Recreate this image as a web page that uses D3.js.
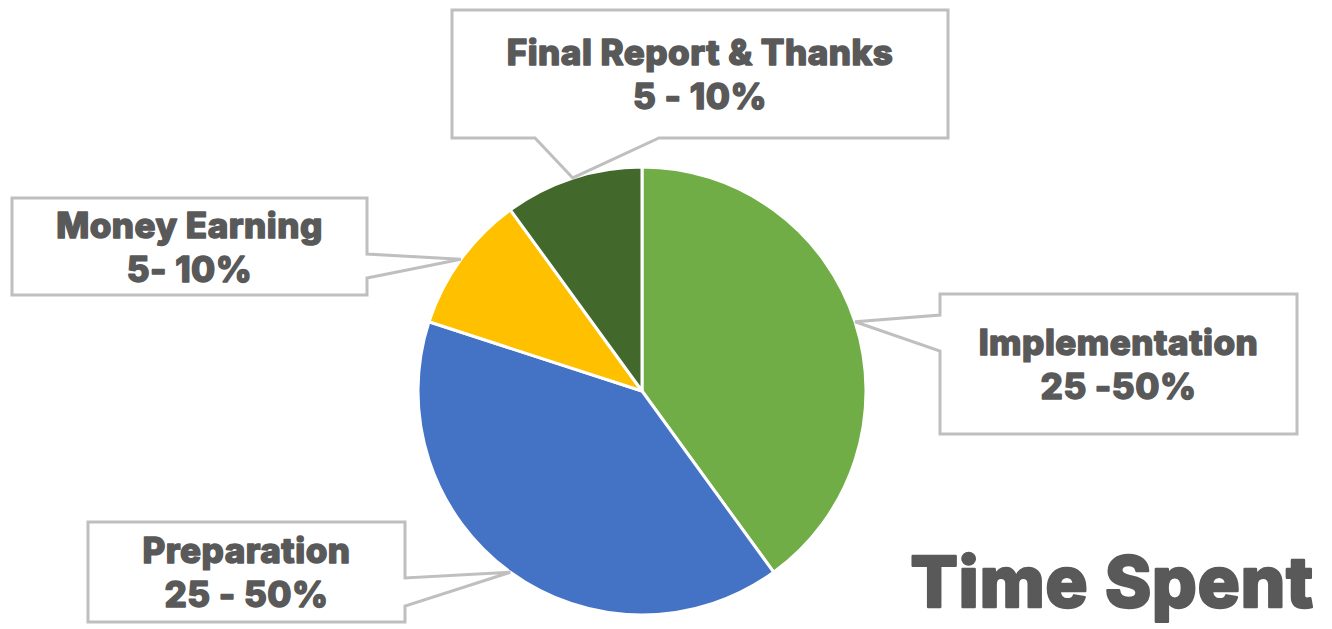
<!DOCTYPE html>
<html>
<head>
<meta charset="utf-8">
<script src="https://cdn.jsdelivr.net/npm/d3@7"></script>
<style>
  body { margin: 0; background: #fff; }
  svg { display: block; }
  text { font-family: Inter, "Open Sans", sans-serif; font-weight: 800; fill: #595959;
         stroke: #595959; stroke-linejoin: round; paint-order: stroke; }
</style>
</head>
<body>
<svg id="chart"></svg>
<script>
// data
const categories = ['Implementation', 'Preparation', 'Money Earning', 'Final Report & Thanks'];
const values = [40, 40, 10, 10];
const rangeLabels = ['25 -50%', '25 - 50%', '5- 10%', '5 - 10%'];
const colors = ['#70AD47', '#4472C4', '#FFC000', '#43682B'];

const width = 1332, height = 629;
const cx = 642, cy = 391, radius = 224;

// callout boxes: x, y, w, h, side of the pointer, pointer base (two points along that side)
const boxes = [
  { x: 940, y: 294, w: 357, h: 140, side: 'left', b: [315, 351] },
  { x: 88, y: 522, w: 317, h: 100, side: 'right', b: [578, 606] },
  { x: 12, y: 198, w: 355, h: 97, side: 'right', b: [254, 278] },
  { x: 452, y: 10, w: 496, h: 128, side: 'bottom', b: [535, 659] }
];

const svg = d3.select('#chart').attr('width', width).attr('height', height);

const pie = d3.pie().sort(null).value(d => d);
const arcs = pie(values);

const arc = d3.arc().innerRadius(0).outerRadius(radius);
const edge = d3.arc().innerRadius(radius).outerRadius(radius);

const g = svg.append('g').attr('transform', `translate(${cx},${cy})`);

g.selectAll('path')
  .data(arcs)
  .join('path')
  .attr('d', arc)
  .attr('fill', (d, i) => colors[i])
  .attr('stroke', '#fff')
  .attr('stroke-width', 3)
  .attr('stroke-linejoin', 'round');

// callout outline with pointer to the slice edge
function callout(bx, tip) {
  const x0 = bx.x, y0 = bx.y, x1 = bx.x + bx.w, y1 = bx.y + bx.h;
  const [a, b] = bx.b;
  let pts;
  if (bx.side === 'left') {
    pts = [[x0, y0], [x1, y0], [x1, y1], [x0, y1], [x0, b], tip, [x0, a]];
  } else if (bx.side === 'right') {
    pts = [[x0, y0], [x1, y0], [x1, a], tip, [x1, b], [x1, y1], [x0, y1]];
  } else {
    pts = [[x0, y0], [x1, y0], [x1, y1], [b, y1], tip, [a, y1], [x0, y1]];
  }
  return 'M' + pts.map(p => p.join(',')).join('L') + 'Z';
}

const labels = svg.append('g');

arcs.forEach((d, i) => {
  const c = edge.centroid(d);
  const tip = [cx + c[0], cy + c[1]];
  const bx = boxes[i];
  labels.append('path')
    .attr('d', callout(bx, tip))
    .attr('fill', '#fff')
    .attr('stroke', '#BFBFBF')
    .attr('stroke-width', 3);

  const mx = bx.x + bx.w / 2, my = bx.y + bx.h / 2;
  const t = labels.append('text')
    .attr('x', mx)
    .attr('text-anchor', 'middle')
    .style('font-size', '35px')
    .style('letter-spacing', '0.5px')
    .style('stroke-width', '1.4px');
  t.append('tspan').attr('x', mx).attr('y', my - 9).text(categories[i]);
  t.append('tspan').attr('x', mx).attr('y', my + 35).text(rangeLabels[i]);
});

svg.append('text')
  .attr('x', 1314)
  .attr('y', 607)
  .attr('text-anchor', 'end')
  .style('font-size', '70px')
  .style('letter-spacing', '1px')
  .style('stroke-width', '2.5px')
  .text('Time Spent');
</script>
</body>
</html>
